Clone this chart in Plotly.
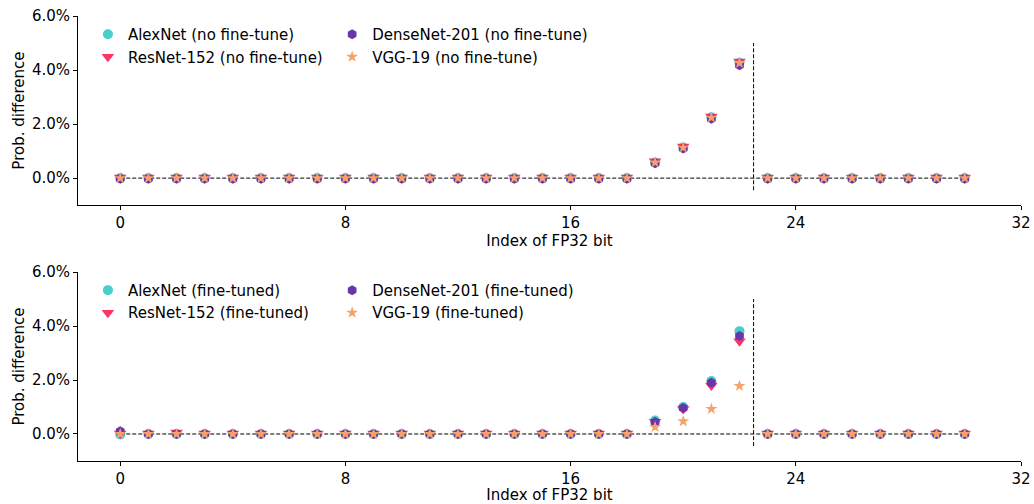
import plotly.graph_objects as go
from plotly.subplots import make_subplots

bits = list(range(31))

# Top panel (no fine-tune), values in %
alex_nf = [0.0]*19 + [0.58, 1.13, 2.25, 4.27] + [0.0]*8
resnet_nf = [0.02]*19 + [0.62, 1.17, 2.28, 4.32] + [0.02]*8
dense_nf = [-0.02]*19 + [0.55, 1.10, 2.20, 4.18] + [-0.02]*8
vgg_nf = [0.0]*19 + [0.58, 1.13, 2.24, 4.26] + [0.0]*8

# Bottom panel (fine-tuned), values in %
alex_ft = [-0.02] + [0.0]*18 + [0.50, 1.00, 1.96, 3.81] + [0.0]*8
resnet_ft = [0.02, 0.02, 0.06] + [0.02]*16 + [0.45, 0.93, 1.80, 3.44] + [0.02]*8
dense_ft = [0.10] + [0.0]*18 + [0.44, 0.96, 1.90, 3.63] + [0.0]*8
vgg_ft = [0.0]*19 + [0.26, 0.47, 0.93, 1.78] + [0.0]*8

x_ticks = [0, 8, 16, 24, 32]
y_ticks = [0, 2, 4, 6]
y_ticktext = ["0.0%", "2.0%", "4.0%", "6.0%"]

names = ["AlexNet", "ResNet-152", "DenseNet-201", "VGG-19"]
colors = ["#45cfcf", "#ff3366", "#6a35a8", "#f7a06a"]
symbols = ["circle", "triangle-down", "hexagon", "star"]
sizes = [10, 11, 10, 9]

fig = make_subplots(rows=2, cols=1, vertical_spacing=0.1505)
fig.update_layout(
    yaxis=dict(domain=[0.575, 1.0]),
    yaxis2=dict(domain=[0.0, 0.4247]),
)

panels = [
    (1, [alex_nf, resnet_nf, dense_nf, vgg_nf], "(no fine-tune)", ["legend", "legend", "legend2", "legend2"]),
    (2, [alex_ft, resnet_ft, dense_ft, vgg_ft], "(fine-tuned)", ["legend3", "legend3", "legend4", "legend4"]),
]

for row, series, suffix, legs in panels:
    for i, vals in enumerate(series):
        fig.add_trace(go.Scatter(
            x=bits, y=vals, mode="markers",
            name=f"{names[i]} {suffix}",
            marker=dict(symbol=symbols[i], color=colors[i], size=sizes[i], line=dict(width=0)),
            legend=legs[i],
        ), row=row, col=1)

# reference lines
hline_x = (0, 30)
vline_x = 22.5
vline_y = (-0.45, 5.0)
for row in (1, 2):
    xr = "x" if row == 1 else "x2"
    yr = "y" if row == 1 else "y2"
    fig.add_shape(type="line", x0=hline_x[0], x1=hline_x[1], y0=0, y1=0, xref=xr, yref=yr,
                  line=dict(color="black", width=1, dash="4px,2px"), layer="below")
    fig.add_shape(type="line", x0=vline_x, x1=vline_x, y0=vline_y[0], y1=vline_y[1], xref=xr, yref=yr,
                  line=dict(color="black", width=1, dash="4px,2px"), layer="below")

font = dict(family="DejaVu Sans", size=15, color="black")
for row in (1, 2):
    fig.update_xaxes(range=[-1.5, 32], tickvals=x_ticks, showline=True, linecolor="black",
                     linewidth=1, ticks="outside", ticklen=4, tickcolor="black", showgrid=False,
                     zeroline=False, automargin=False,
                     title=dict(text="Index of FP32 bit", font=font, standoff=2),
                     tickfont=font, row=row, col=1)
    fig.update_yaxes(range=[-1, 6], tickvals=y_ticks, ticktext=y_ticktext,
                     showline=True, linecolor="black", linewidth=1, ticks="outside", ticklen=4,
                     tickcolor="black", showgrid=False, zeroline=False, automargin=False,
                     title=dict(text="Prob. difference", font=font, standoff=3),
                     tickfont=font, row=row, col=1)

leg_common = dict(font=font, bgcolor="rgba(0,0,0,0)", xanchor="left", yanchor="top",
                  orientation="v", tracegroupgap=0)
fig.update_layout(
    legend=dict(x=0.0105, y=0.9955, **leg_common),
    legend2=dict(x=0.2695, y=0.9955, **leg_common),
    legend3=dict(x=0.0105, y=0.4205, **leg_common),
    legend4=dict(x=0.2695, y=0.4205, **leg_common),
    width=1034, height=504,
    margin=dict(l=78, r=13, t=16, b=43),
    plot_bgcolor="white", paper_bgcolor="white",
    font=font,
)

fig.write_html("out.html", config={"displayModeBar": False},
               post_script="document.body.style.margin='0';")
